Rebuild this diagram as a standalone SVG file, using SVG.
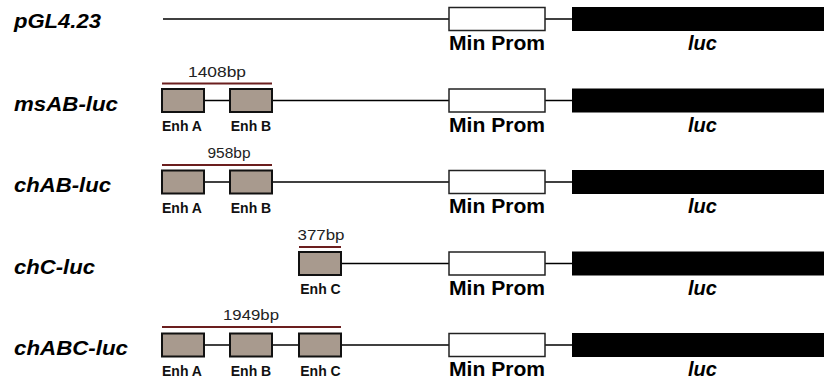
<svg xmlns="http://www.w3.org/2000/svg" width="824" height="382" viewBox="0 0 824 382">
<style>
.name{font-family:"Liberation Sans",Arial,sans-serif;font-weight:bold;font-style:italic;font-size:21px;fill:#000}
.mp{font-family:"Liberation Sans",Arial,sans-serif;font-weight:bold;font-size:20px;fill:#000}
.luc{font-family:"Liberation Sans",Arial,sans-serif;font-weight:bold;font-style:italic;font-size:20px;fill:#000;text-anchor:middle}
.enhl{font-family:"Liberation Sans",Arial,sans-serif;font-weight:bold;font-size:14px;fill:#111;text-anchor:middle}
.bp{font-family:"Liberation Sans",Arial,sans-serif;font-size:15px;fill:#222;text-anchor:middle}
.enh{fill:#a89a8e;stroke:#111;stroke-width:2}
.prom{fill:#fff;stroke:#222;stroke-width:1.5}
.bar{fill:#000}
.ln{stroke:#000;stroke-width:1.5;fill:none}
.red{stroke:#6b1e1e;stroke-width:2}
</style>
<g id="connectors">
<line class="ln" x1="163" y1="19" x2="449" y2="19"/>
<line class="ln" x1="545" y1="19" x2="572" y2="19"/>
<line class="ln" x1="204" y1="100.5" x2="230" y2="100.5"/>
<line class="ln" x1="272" y1="100.5" x2="449" y2="100.5"/>
<line class="ln" x1="545" y1="100.5" x2="572" y2="100.5"/>
<line class="ln" x1="204" y1="182" x2="230" y2="182"/>
<line class="ln" x1="272" y1="182" x2="449" y2="182"/>
<line class="ln" x1="545" y1="182" x2="572" y2="182"/>
<line class="ln" x1="341" y1="263.5" x2="449" y2="263.5"/>
<line class="ln" x1="545" y1="263.5" x2="572" y2="263.5"/>
<line class="ln" x1="204" y1="345" x2="230" y2="345"/>
<line class="ln" x1="272" y1="345" x2="299" y2="345"/>
<line class="ln" x1="341" y1="345" x2="449" y2="345"/>
<line class="ln" x1="545" y1="345" x2="572" y2="345"/>
</g>
<g id="row-pGL4.23">
<text class="name" x="14" y="28" textLength="87" lengthAdjust="spacingAndGlyphs">pGL4.23</text>
<g id="prom1"><rect class="prom" x="449" y="7.5" width="96" height="23"/><text class="mp" x="449" y="50" textLength="96" lengthAdjust="spacingAndGlyphs">Min Prom</text></g>
<g id="luc1"><rect class="bar" x="572" y="7" width="252" height="24"/><text class="luc" x="702.5" y="50">luc</text></g>
</g>
<g id="row-msAB-luc">
<text class="name" x="14" y="110.5" textLength="104" lengthAdjust="spacingAndGlyphs">msAB-luc</text>
<line class="red" x1="162" y1="83.5" x2="272" y2="83.5"/>
<text class="bp" x="217" y="76.5" textLength="58" lengthAdjust="spacingAndGlyphs">1408bp</text>
<g id="enhA2"><rect class="enh" x="162" y="89" width="42" height="23"/><text class="enhl" x="182" y="131">Enh A</text></g>
<g id="enhB2"><rect class="enh" x="230" y="89" width="42" height="23"/><text class="enhl" x="251" y="131">Enh B</text></g>
<g id="prom2"><rect class="prom" x="449" y="89" width="96" height="23"/><text class="mp" x="449" y="131.5" textLength="96" lengthAdjust="spacingAndGlyphs">Min Prom</text></g>
<g id="luc2"><rect class="bar" x="572" y="88.5" width="252" height="24"/><text class="luc" x="702.5" y="131.5">luc</text></g>
</g>
<g id="row-chAB-luc">
<text class="name" x="14" y="192" textLength="97" lengthAdjust="spacingAndGlyphs">chAB-luc</text>
<line class="red" x1="162" y1="165" x2="272" y2="165"/>
<text class="bp" x="229" y="158" textLength="43" lengthAdjust="spacingAndGlyphs">958bp</text>
<g id="enhA3"><rect class="enh" x="162" y="170.5" width="42" height="23"/><text class="enhl" x="182" y="212.5">Enh A</text></g>
<g id="enhB3"><rect class="enh" x="230" y="170.5" width="42" height="23"/><text class="enhl" x="251" y="212.5">Enh B</text></g>
<g id="prom3"><rect class="prom" x="449" y="170.5" width="96" height="23"/><text class="mp" x="449" y="213" textLength="96" lengthAdjust="spacingAndGlyphs">Min Prom</text></g>
<g id="luc3"><rect class="bar" x="572" y="170" width="252" height="24"/><text class="luc" x="702.5" y="213">luc</text></g>
</g>
<g id="row-chC-luc">
<text class="name" x="14" y="273.5" textLength="81" lengthAdjust="spacingAndGlyphs">chC-luc</text>
<line class="red" x1="299" y1="247" x2="341" y2="247"/>
<text class="bp" x="321" y="239.5" textLength="47" lengthAdjust="spacingAndGlyphs">377bp</text>
<g id="enhC4"><rect class="enh" x="299" y="252" width="42" height="23"/><text class="enhl" x="320.5" y="294">Enh C</text></g>
<g id="prom4"><rect class="prom" x="449" y="252" width="96" height="23"/><text class="mp" x="449" y="294.5" textLength="96" lengthAdjust="spacingAndGlyphs">Min Prom</text></g>
<g id="luc4"><rect class="bar" x="572" y="251.5" width="252" height="24"/><text class="luc" x="702.5" y="294.5">luc</text></g>
</g>
<g id="row-chABC-luc">
<text class="name" x="14" y="355" textLength="114" lengthAdjust="spacingAndGlyphs">chABC-luc</text>
<line class="red" x1="162" y1="327" x2="341" y2="327"/>
<text class="bp" x="251" y="320" textLength="56" lengthAdjust="spacingAndGlyphs">1949bp</text>
<g id="enhA5"><rect class="enh" x="162" y="333.5" width="42" height="23"/><text class="enhl" x="182" y="375.5">Enh A</text></g>
<g id="enhB5"><rect class="enh" x="230" y="333.5" width="42" height="23"/><text class="enhl" x="251" y="375.5">Enh B</text></g>
<g id="enhC5"><rect class="enh" x="299" y="333.5" width="42" height="23"/><text class="enhl" x="320.5" y="375.5">Enh C</text></g>
<g id="prom5"><rect class="prom" x="449" y="333.5" width="96" height="23"/><text class="mp" x="449" y="376" textLength="96" lengthAdjust="spacingAndGlyphs">Min Prom</text></g>
<g id="luc5"><rect class="bar" x="572" y="333" width="252" height="24"/><text class="luc" x="702.5" y="376">luc</text></g>
</g>
</svg>
